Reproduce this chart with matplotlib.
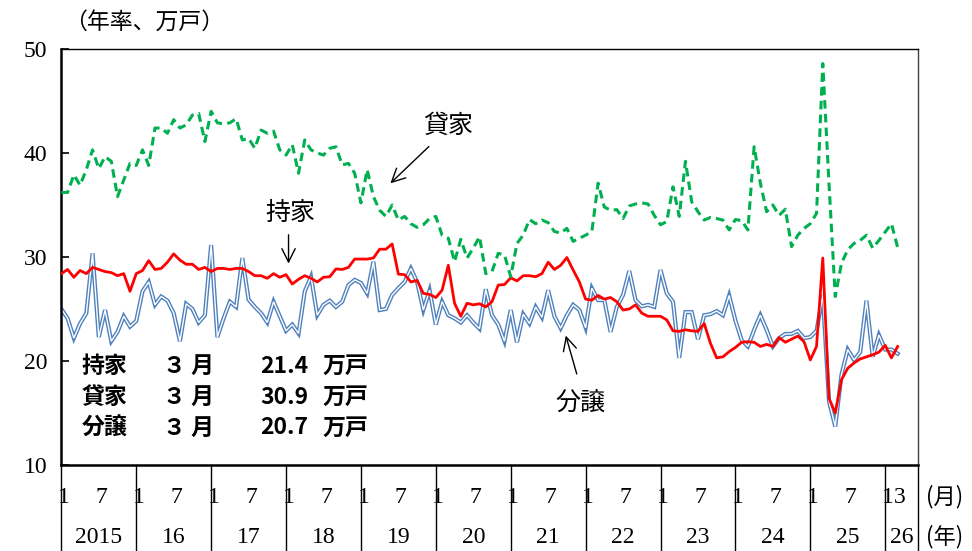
import numpy as np
import matplotlib
matplotlib.use("Agg")
from matplotlib import pyplot as plt

# 2015年1月〜2026年3月 (月次, 年率換算, 万戸)
mochiie = [28.4, 28.8, 28.05, 28.7, 28.4, 29.0, 28.8, 28.6, 28.5, 28.2, 28.4, 26.7,
           28.4, 28.7, 29.65, 28.8, 28.9, 29.5, 30.3, 29.7, 29.3, 29.3, 28.8, 29.0,
           28.6, 28.9, 28.9, 28.8, 28.9, 28.9, 28.6, 28.2, 28.2, 27.95, 28.4, 28.05,
           28.3, 27.4, 27.85, 28.2, 27.95, 27.6, 28.05, 28.1, 28.85, 28.8, 29.0, 29.8,
           29.8, 29.8, 29.9, 30.75, 30.75, 31.25, 28.35, 28.3, 27.6, 27.75, 26.5, 26.4,
           26.1, 26.8, 29.2, 25.55, 24.3, 25.55, 25.4, 25.5, 25.2, 25.7, 27.3, 27.35,
           28.0, 27.7, 28.2, 28.2, 28.1, 28.4, 29.5, 28.8, 29.2, 29.95, 28.75, 27.6,
           25.95, 25.85, 26.3, 25.95, 26.1, 25.7, 24.9, 25.0, 25.4, 24.6, 24.3, 24.3,
           24.3, 23.95, 22.9, 22.85, 23.0, 22.9, 22.85, 23.6, 21.7, 20.3, 20.4, 20.9,
           21.3, 21.8, 21.85, 21.8, 21.4, 21.6, 21.4, 22.25, 21.8, 22.1, 22.4, 21.85,
           20.1, 21.4, 29.9, 16.4, 15.0, 18.2, 19.3, 19.8, 20.2, 20.4, 20.6, 20.85,
           21.5, 20.3, 21.4]

kashiya = [36.2, 36.2, 37.9, 36.9, 38.4, 40.3, 38.5, 39.65, 39.2, 35.8, 37.4, 39.0,
           38.8, 40.3, 38.8, 42.4, 42.4, 41.9, 43.2, 42.4, 42.7, 43.65, 43.8, 41.1,
           44.0, 42.9, 42.8, 42.9, 43.3, 41.25, 41.4, 40.45, 42.2, 41.9, 42.1, 40.3,
           39.8, 40.8, 38.05, 41.25, 40.3, 40.0, 39.8, 40.45, 40.6, 38.85, 39.0, 38.05,
           35.2, 38.4, 35.8, 34.5, 33.9, 35.0, 33.55, 33.9, 33.2, 32.85, 33.1, 33.7,
           33.9, 32.1, 31.8, 29.55, 31.7, 29.9, 30.85, 31.95, 28.4, 28.6, 30.35, 30.2,
           28.1, 31.3, 32.1, 33.6, 33.2, 33.55, 33.3, 32.45, 32.3, 32.75, 31.5, 31.8,
           32.1, 32.45, 37.1, 34.8, 34.5, 34.55, 33.7, 34.9, 35.1, 35.2, 35.1, 34.0,
           33.1, 33.4, 36.75, 33.9, 39.2, 35.3, 34.35, 33.55, 33.8, 33.7, 33.55, 32.6,
           33.6, 33.5, 32.6, 40.6, 37.1, 34.35, 35.0, 34.0, 34.6, 31.0, 32.1, 32.75,
           33.2, 34.2, 48.6, 37.0, 26.2, 29.4, 30.7, 31.3, 31.6, 32.1, 30.85, 31.6,
           32.4, 33.2, 30.9]

bunjo = [25.0, 24.1, 22.2, 23.6, 24.6, 30.35, 22.3, 24.9, 21.9, 22.8, 24.3, 23.3,
         23.85, 26.7, 27.6, 25.4, 26.2, 25.8, 24.6, 21.9, 25.5, 25.0, 23.7, 24.4,
         31.15, 22.3, 24.1, 25.7, 25.2, 29.9, 25.9, 25.2, 24.6, 23.7, 25.7, 24.3,
         22.9, 23.5, 22.65, 26.7, 28.1, 24.4, 25.4, 25.8, 25.2, 25.7, 27.3, 27.8,
         27.5, 26.5, 29.55, 24.9, 25.0, 26.35, 27.0, 27.6, 28.9, 27.6, 24.9, 26.8,
         23.5, 25.7, 24.4, 24.1, 23.7, 24.4, 23.7, 23.1, 26.9, 24.4, 23.5, 21.9,
         24.9, 21.8, 24.5, 23.6, 25.2, 24.2, 26.8, 24.3, 23.15, 24.4, 25.4, 24.9,
         23.2, 27.0, 25.85, 25.85, 22.8, 25.2, 26.35, 28.65, 25.85, 25.25, 25.4, 25.2,
         28.75, 26.5, 25.7, 20.3, 24.7, 24.7, 22.1, 24.4, 24.5, 24.8, 24.4, 26.3,
         23.9, 22.0, 21.4, 23.0, 24.4, 23.0, 21.4, 22.2, 22.6, 22.6, 22.9, 22.2,
         22.3, 22.9, 26.35, 16.1, 13.7, 18.7, 21.1, 20.1, 20.85, 25.8, 20.4, 22.5,
         21.1, 21.1, 20.7]

years = ["2015", "16", "17", "18", "19", "20", "21", "22", "23", "24", "25", "26"]
latest = [("持家", "３ 月", "21.4", "万戸"),
          ("貸家", "３ 月", "30.9", "万戸"),
          ("分譲", "３ 月", "20.7", "万戸")]

jp = ['Noto Sans CJK JP', 'DejaVu Sans']
num = ['Liberation Serif', 'DejaVu Serif']

x = np.arange(len(mochiie))

fig = plt.figure(figsize=(9.72, 5.51), dpi=100)
ax = fig.add_axes([0.0628, 0.1561, 0.8816, 0.7550])

ax.plot(x, bunjo, color='#4f81bd', lw=3.0, zorder=2, solid_joinstyle='miter')
ax.plot(x, bunjo, color='white', lw=1.0, zorder=2.1, solid_joinstyle='miter')
ax.plot(x, mochiie, color='#ff0000', lw=2.0, zorder=3)
ax.plot(x, kashiya, color='#00b050', lw=2.2, dashes=(2.8, 1.7), zorder=4)

ax.set_xlim(-0.05, 137.25)
ax.set_ylim(10, 50)
ax.set_yticks([10, 20, 30, 40, 50])
ax.set_xticks([])
ax.tick_params(axis='y', direction='in', length=6, width=1.2, pad=10)
for lab in ax.get_yticklabels():
    lab.set_family(num)
    lab.set_fontsize(17)
for s in ['left', 'bottom']:
    ax.spines[s].set_linewidth(1.8)
for s in ['top', 'right']:
    ax.spines[s].set_linewidth(1.0)
ax.spines['right'].set_color('#404040')

# 軸下の年・月の区切り
xt = ax.get_xaxis_transform()
for k in range(len(years)):
    ax.plot([12 * k, 12 * k], [0, -0.21], color='black', lw=1.0,
            transform=xt, clip_on=False)
    if k < len(years) - 1:
        months = [("1", 12 * k + 0.4), ("7", 12 * k + 6.4)]
        mid = 12 * k + 6
    else:
        months = [("1", 12 * k + 0.5), ("3", 12 * k + 2.3)]
        mid = 12 * k + 2.7
    for m, pos in months:
        ax.text(pos, -0.077, m, transform=xt, ha='center', va='center',
                family=num, fontsize=17)
    ax.text(mid, -0.175, years[k], transform=xt, ha='center', va='center',
            family=num, fontsize=17)
ax.plot([137.25, 137.25], [0, -0.21], color='black', lw=1.0,
        transform=xt, clip_on=False)
fig.text(945 / 972, 1 - 497 / 551, "(月)", ha='center', va='center', family=jp, fontsize=16)
fig.text(945 / 972, 1 - 537 / 551, "(年)", ha='center', va='center', family=jp, fontsize=16)
fig.text(64 / 972, 1 - 22 / 551, "（年率、万戸）", ha='left', va='center', family=jp, fontsize=16.5)

# 系列名と矢印
ax.text(36.7, 34.2, "持家", ha='center', va='center', family=jp, fontsize=18)
ax.annotate("", xy=(36.4, 29.1), xytext=(36.4, 32.4),
            arrowprops=dict(arrowstyle='->', lw=1.0, color='black', mutation_scale=24))
ax.text(61.9, 42.6, "貸家", ha='center', va='center', family=jp, fontsize=18)
ax.annotate("", xy=(52.4, 36.9), xytext=(59.2, 40.8),
            arrowprops=dict(arrowstyle='->', lw=1.0, color='black', mutation_scale=24))
ax.text(83.1, 16.0, "分譲", ha='center', va='center', family=jp, fontsize=18)
ax.annotate("", xy=(80.7, 22.7), xytext=(82.7, 18.5),
            arrowprops=dict(arrowstyle='->', lw=1.0, color='black', mutation_scale=24))

# 最新値
rows_y = [19.45, 16.47, 13.56]
for (name, mon, val, unit), yy in zip(latest, rows_y):
    for txt, xx in [(name, 3.3), (mon, 16.3), (val, 31.9), (unit, 41.9)]:
        ax.text(xx, yy, txt, ha='left', va='center', family=jp,
                fontsize=16.5, fontweight='bold')

fig.savefig("out.png", dpi=100)
